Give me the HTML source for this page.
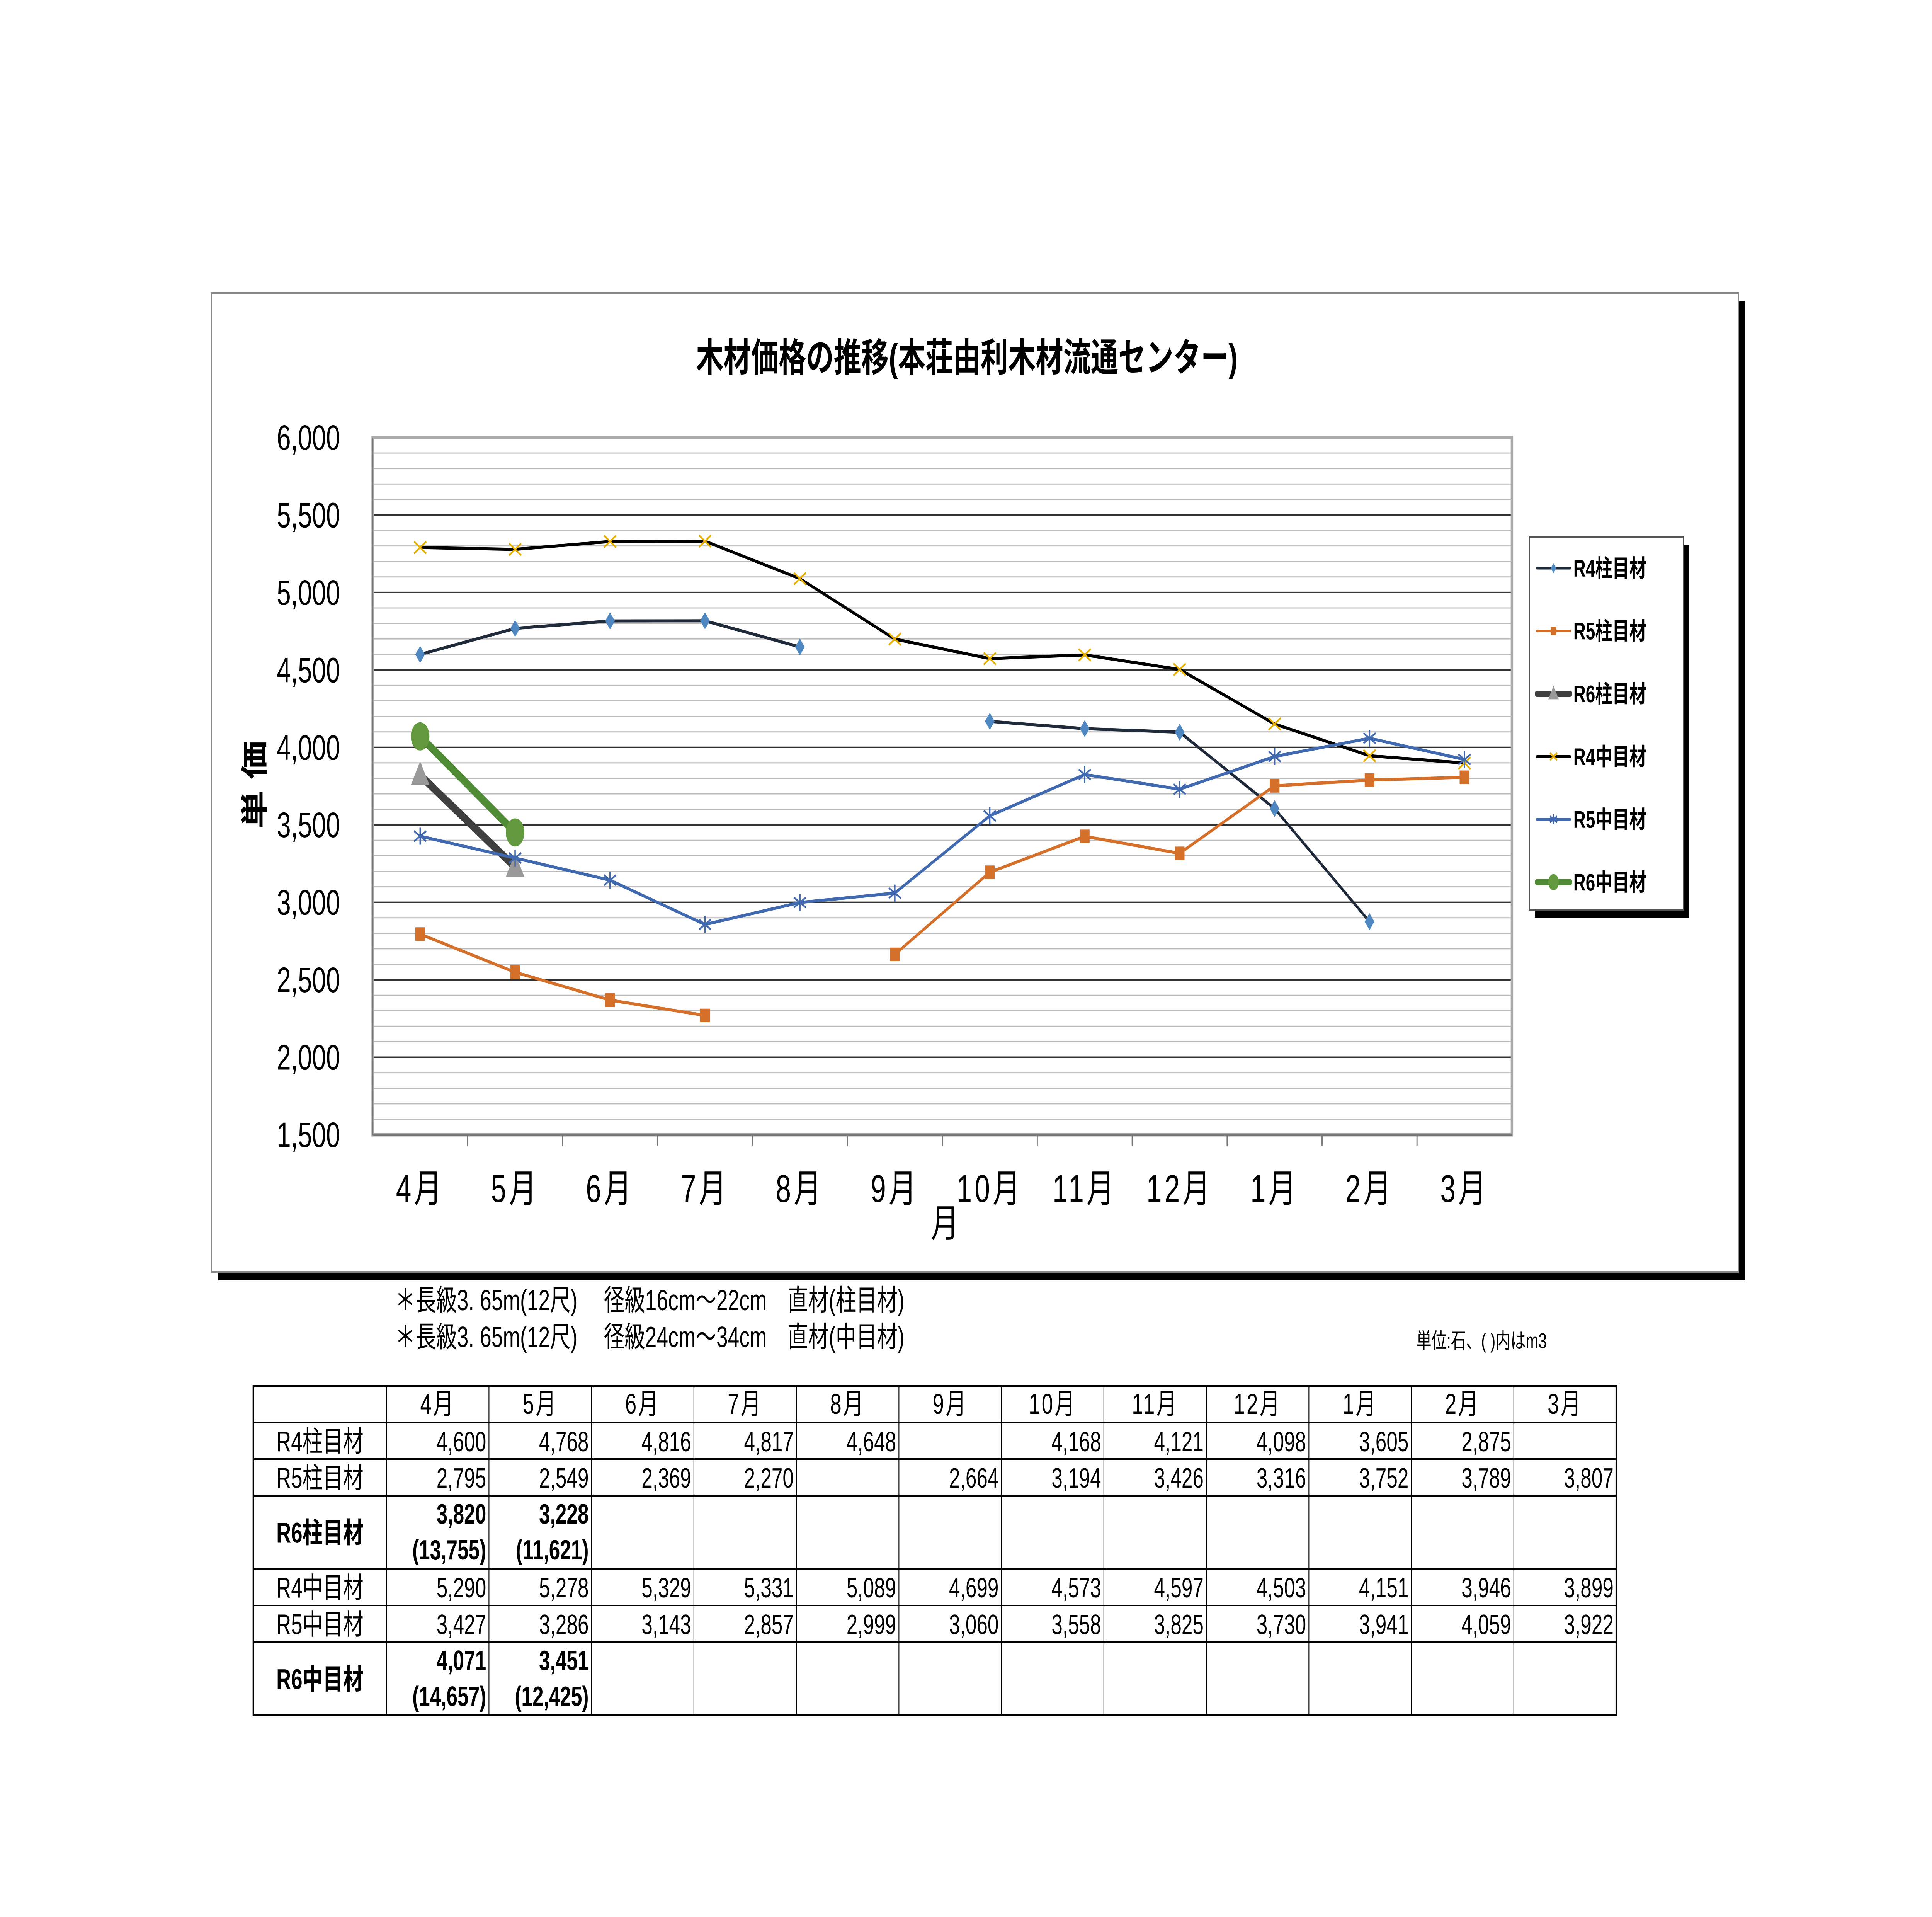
<!DOCTYPE html>
<html><head><meta charset="utf-8"><style>
html,body{margin:0;padding:0;background:#fff;overflow:hidden;width:100%;height:100%;}
svg{display:block;width:100vw;height:100vh;font-family:"Liberation Sans","Noto Sans CJK JP",sans-serif;}
</style></head><body>
<svg id="s" viewBox="0 0 7014 4960" preserveAspectRatio="none" xmlns="http://www.w3.org/2000/svg">
<rect x="0" y="0" width="7014" height="4960" fill="#fff"/>
<g>
<rect x="790" y="780" width="5545" height="2533" fill="#000"/>
<rect x="767" y="758" width="5545" height="2533" fill="#fff" stroke="#888" stroke-width="4"/>
</g>
<text x="3510" y="960" font-size="100" font-weight="bold" text-anchor="middle">木材価格の推移(本荘由利木材流通センター)</text>
<g id="plot"></g>
<text transform="translate(960,2030) rotate(-90)" font-size="100" font-weight="bold" text-anchor="middle">単 価</text>
<text x="3430" y="3200" font-size="100" text-anchor="middle">月</text>
<g id="legend">
<rect x="5572" y="1409" width="560" height="965" fill="#000"/>
<rect x="5552" y="1389" width="560" height="965" fill="#fff" stroke="#555" stroke-width="4"/>
</g>
<text x="1434" y="3390" font-size="75">＊長級3. 65m(12尺)　 径級16cm～22cm　直材(柱目材)</text>
<text x="1434" y="3485" font-size="75">＊長級3. 65m(12尺)　 径級24cm～34cm　直材(中目材)</text>
<text x="5142" y="3488" font-size="55">単位:石、( )内はm3</text>
<g id="table"></g>
</svg>
<script>
const months = ["4月","5月","6月","7月","8月","9月","10月","11月","12月","1月","2月","3月"];
const yTicks = [1500,2000,2500,3000,3500,4000,4500,5000,5500,6000];
const seriesNames = ["R4柱目材","R5柱目材","R6柱目材","R4中目材","R5中目材","R6中目材"];
const r4Hashira = [4600,4768,4816,4817,4648,null,4168,4121,4098,3605,2875,null];
const r5Hashira = [2795,2549,2369,2270,null,2664,3194,3426,3316,3752,3789,3807];
const r6Hashira = [3820,3228,null,null,null,null,null,null,null,null,null,null];
const r4Naka = [5290,5278,5329,5331,5089,4699,4573,4597,4503,4151,3946,3899];
const r5Naka = [3427,3286,3143,2857,2999,3060,3558,3825,3730,3941,4059,3922];
const r6Naka = [4071,3451,null,null,null,null,null,null,null,null,null,null];
const r6HashiraM3 = ["(13,755)","(11,621)"];
const r6NakaM3 = ["(14,657)","(12,425)"];

const NS="http://www.w3.org/2000/svg";
function mk(tag,attrs,parent){const e=document.createElementNS(NS,tag);for(const k in attrs)e.setAttribute(k,attrs[k]);parent.appendChild(e);return e;}
const PX0=1353,PX1=5489,PY0=1132,PY1=2936,YMIN=1500,YMAX=6000;
const xs=i=>PX0+(PX1-PX0)/months.length*(i+0.5);
const ys=v=>PY1-(v-YMIN)/(YMAX-YMIN)*(PY1-PY0);
const plot=document.getElementById('plot');
mk('rect',{x:PX0,y:PY0,width:PX1-PX0,height:PY1-PY0,fill:'#fff'},plot);
for(let v=YMIN;v<=YMAX;v+=100){
  const g=mk('line',{x1:PX0,x2:PX1,y1:ys(v),y2:ys(v),stroke:(v%500===0)?'#333':'#bbb','stroke-width':(v%500===0)?4:3},plot);
  
  
}
mk('rect',{x:PX0,y:PY0,width:PX1-PX0,height:PY1-PY0,fill:'none',stroke:'#aaa','stroke-width':9},plot);
mk('line',{x1:PX0,x2:PX0,y1:PY0,y2:PY1,stroke:'#777','stroke-width':4},plot);
mk('line',{x1:PX0,x2:PX1,y1:PY1,y2:PY1,stroke:'#777','stroke-width':4},plot);
for(let i=1;i<months.length;i++){
  const x=PX0+(PX1-PX0)/months.length*i;
  mk('line',{x1:x,x2:x,y1:PY1,y2:PY1+30,stroke:'#777','stroke-width':4},plot);
}
yTicks.forEach(v=>{
  const t=mk('text',{x:1235,y:ys(v)+32,'font-size':92,'text-anchor':'end'},plot);
  t.textContent=v.toLocaleString('en-US');
  
  
});
months.forEach((m,i)=>{
  const t=mk('text',{x:xs(i),y:3110,'font-size':100,'text-anchor':'middle','letter-spacing':10},plot);
  t.textContent=m;
  
  
});
const styles=[
 {d:r4Hashira,line:'#1f2a3a',w:8,mk:'diamond',fill:'#4f88c0'},
 {d:r5Hashira,line:'#d4702a',w:8,mk:'square',fill:'#d4702a'},
 {d:r6Hashira,line:'#404040',w:22,mk:'triangle',fill:'#999'},
 {d:r4Naka,line:'#000',w:8,mk:'x',fill:'#e8b000'},
 {d:r5Naka,line:'#4169b0',w:8,mk:'star',fill:'#4169b0'},
 {d:r6Naka,line:'#4f8a35',w:22,mk:'circle',fill:'#62993e'}
];
function marker(type,x,y,fill,parent,s){
  let e;
  if(type==='diamond')e=mk('polygon',{points:`${x},${y-s} ${x+s*0.8},${y} ${x},${y+s} ${x-s*0.8},${y}`,fill:fill},parent);
  else if(type==='square')e=mk('rect',{x:x-s*0.8,y:y-s*0.8,width:s*1.6,height:s*1.6,fill:fill},parent);
  else if(type==='triangle')e=mk('polygon',{points:`${x},${y-s*1.3} ${x+s*1.2},${y+s*0.9} ${x-s*1.2},${y+s*0.9}`,fill:fill},parent);
  else if(type==='circle')e=mk('ellipse',{cx:x,cy:y,rx:s*1.2,ry:s*1.3,fill:fill},parent);
  else if(type==='x'){e=mk('path',{d:`M${x-s} ${y-s*0.7}L${x+s} ${y+s*0.7}M${x-s} ${y+s*0.7}L${x+s} ${y-s*0.7}`,stroke:fill,'stroke-width':5,fill:'none'},parent);}
  else {e=mk('path',{d:`M${x-s} ${y-s*0.6}L${x+s} ${y+s*0.6}M${x-s} ${y+s*0.6}L${x+s} ${y-s*0.6}M${x} ${y-s}L${x} ${y+s}`,stroke:fill,'stroke-width':5,fill:'none'},parent);}
  return e;
}
styles.forEach((st,si)=>{
  const g=mk('g',{},plot);
  
  
  let seg=[];
  const flush=()=>{ if(seg.length>1){const p=mk('polyline',{points:seg.join(' '),fill:'none',stroke:st.line,'stroke-width':st.w,'stroke-linejoin':'round','stroke-linecap':'round'},g);
    
    } seg=[]; };
  st.d.forEach((v,i)=>{ if(v==null){flush();return;} seg.push(xs(i)+','+ys(v)); });
  flush();
  st.d.forEach((v,i)=>{ if(v==null)return;
    const m=marker(st.mk,xs(i),ys(v),st.fill,g,st.w>10?28:22);
    
    
  });
});
const lg=document.getElementById('legend');
seriesNames.forEach((n,i)=>{
  const y=1470+i*162.5, st=styles[i];
  const l=mk('line',{x1:5580,x2:5700,y1:y,y2:y,stroke:st.line,'stroke-width':st.w>10?16:7,'stroke-linecap':'round'},lg);
  
  
  marker(st.mk,5640,y,st.fill,lg,st.w>10?16:13);
  const t=mk('text',{x:5712,y:y+22,'font-size':62,'font-weight':'bold'},lg);
  t.textContent=n;
  
  
});
const tb=document.getElementById('table');
const TX0=920,TX1=5868,C0=1403,CW=(TX1-C0)/12;
const rowY=[3586,3681,3775,3870,4059,4154,4249,4438];
const tdata=[r4Hashira,r5Hashira,r6Hashira,r4Naka,r5Naka,r6Naka];
mk('rect',{x:TX0,y:rowY[0],width:TX1-TX0,height:rowY[7]-rowY[0],fill:'none',stroke:'#000','stroke-width':6},tb);
for(let r=1;r<7;r++)mk('line',{x1:TX0,x2:TX1,y1:rowY[r],y2:rowY[r],stroke:'#000','stroke-width':(r===3||r===4||r===6)?6:4},tb);
mk('line',{x1:C0,x2:C0,y1:rowY[0],y2:rowY[7],stroke:'#000','stroke-width':4},tb);
for(let c=1;c<12;c++)mk('line',{x1:C0+CW*c,x2:C0+CW*c,y1:rowY[0],y2:rowY[7],stroke:'#000','stroke-width':3},tb);
months.forEach((m,i)=>{
  const t=mk('text',{x:C0+CW*(i+0.5),y:rowY[0]+72,'font-size':74,'text-anchor':'middle','letter-spacing':6},tb);
  t.textContent=m;
  
  
});
tdata.forEach((d,r)=>{
  const tall=(r===2||r===5);
  const yTop=rowY[r+1], yBot=rowY[r+2];
  const h=mk('text',{x:(TX0+C0)/2,y:(yTop+yBot)/2+27,'font-size':74,'text-anchor':'middle','font-weight':tall?'bold':'normal'},tb);
  h.textContent=seriesNames[r];
  
  
  d.forEach((v,i)=>{ if(v==null)return;
    const x=C0+CW*(i+1)-10;
    const t=mk('text',{x:x,y:yTop+(tall?72:74),'font-size':72,'text-anchor':'end','font-weight':tall?'bold':'normal'},tb);
    t.textContent=v.toLocaleString('en-US');
    
    
    if(tall){const m3=(r===2?r6HashiraM3:r6NakaM3)[i];
      const t2=mk('text',{x:x,y:yTop+165,'font-size':72,'text-anchor':'end','font-weight':'bold'},tb);
      t2.textContent=m3;
      
      }
  });
});
</script>
</body></html>
